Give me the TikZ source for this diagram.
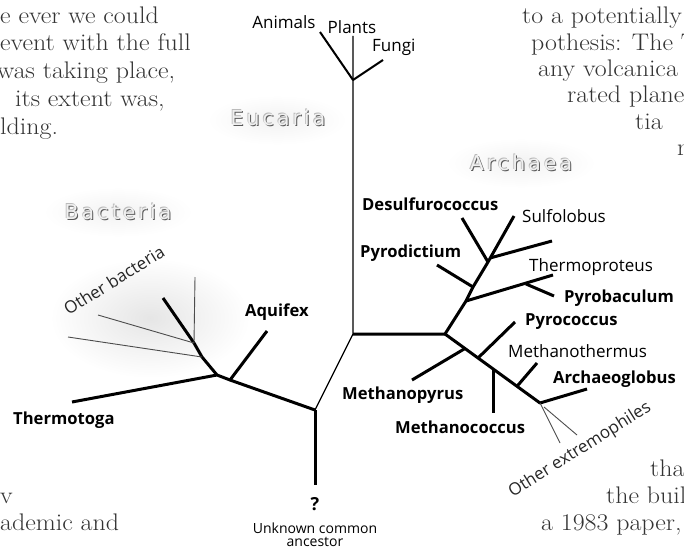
\documentclass[tikz,border=0pt]{standalone}
\usepackage{fontspec}
\newfontfamily\lab{Open Sans}
\newfontfamily\embf[LetterSpace=15]{DejaVu Sans}
\newfontfamily\bodyf[FakeStretch=1.08]{Latin Modern Roman}
\usetikzlibrary{shadings}
\begin{document}
\begin{tikzpicture}[x=1pt,y=-1pt,
  thickbr/.style={line width=3pt,line join=round},
  midbr/.style={line width=2pt,line join=round},
  thinbr/.style={line width=1.2pt},
  greybr/.style={line width=0.9pt,draw=black!70},
  lbl/.style={font=\lab\fontsize{17}{19}\selectfont,inner sep=0pt},
  blbl/.style={font=\lab\bfseries\fontsize{16.6}{19}\selectfont,inner sep=0pt},
  slbl/.style={font=\lab\fontsize{14}{15}\selectfont,inner sep=0pt},
  body/.style={font=\bodyf\fontsize{24}{27}\selectfont,text=black!80,anchor=base west,inner sep=0pt},
  emb/.style={font=\embf\fontsize{20.5}{22}\selectfont,text=gray!12,inner sep=0pt},
  embsh/.style={font=\embf\fontsize{20.5}{22}\selectfont,text=black!65,inner sep=0pt},
  embhi/.style={font=\embf\fontsize{20.5}{22}\selectfont,text=gray!55,inner sep=0pt},
  glow/.style={inner color=gray!20,outer color=white}
]
\useasboundingbox (0,0) rectangle (684,551);
% soft background glows
\shade[glow] (150,318) ellipse (100 and 60);
\shade[inner color=gray!10,outer color=white] (118,212) ellipse (75 and 25);
\shade[inner color=gray!10,outer color=white] (277,120) ellipse (70 and 25);
\shade[inner color=gray!10,outer color=white] (521,163) ellipse (75 and 25);

% body text fragments
\node[body] (t1) at (0,24) {e ever we could};
\node[body] (t2) at (0,51) {event with the full};
\node[body] (t3) at (-3,78) {was taking place,};
\node[body] (t4) at (15,106) {its extent was,};
\node[body] (t5) at (0,134) {lding.};
\node[body] (t6) at (522,24) {to a potentially};
\node[body] (t7) at (531,50) {pothesis: The T};
\node[body] (t8) at (538,76) {any volcanica};
\node[body] (t9) at (567,102) {rated plane};
\node[body] (t10) at (635,129) {tia};
\node[body] (t11) at (677,155) {r};
\node[body] (t12) at (0,503) {v};
\node[body] (t13) at (0,530) {ademic and};
\node[body] (t14) at (650,476) {tha};
\node[body] (t15) at (606,503) {the buil};
\node[body] (t16) at (541,530) {a 1983 paper,};

% domain labels (embossed)
\node[embsh] (bacs) at (119,213.2) {Bacteria};
\node[embhi] (bach) at (117.3,211.3) {Bacteria};
\node[emb] (bac) at (118,212) {Bacteria};
\node[embsh] (eucs) at (279,119.2) {Eucaria};
\node[embhi] (euch) at (277.3,117.3) {Eucaria};
\node[emb] (euc) at (278,118) {Eucaria};
\node[embsh] (arcs) at (522,164.2) {Archaea};
\node[embhi] (arch) at (520.3,162.3) {Archaea};
\node[emb] (arc) at (521,163) {Archaea};

% coordinates
\coordinate (R) at (315,410);
\coordinate (B) at (315,485);
\coordinate (EA) at (353,334);
\coordinate (EJ) at (353,80);
\coordinate (P) at (353,36);
\coordinate (A) at (320,32);
\coordinate (F) at (383,60);
% archaea
\coordinate (AJ) at (445,334);
\coordinate (U1) at (466,301);
\coordinate (U2) at (473,287);
\coordinate (U3) at (488,262);
\coordinate (U3b) at (490,258);
\coordinate (Pyd) at (437,265);
\coordinate (Des) at (462,218);
\coordinate (Sul) at (514,216);
\coordinate (Ub) at (552,241);
\coordinate (Tpr) at (553,275);
\coordinate (Tpj) at (526,284);
\coordinate (Pyb) at (554,296);
\coordinate (L) at (540,403);
\coordinate (Mpj) at (465,348.5);
\coordinate (Mp) at (412,380);
\coordinate (Pcj) at (478,358);
\coordinate (Pc) at (515,322);
\coordinate (Mcj) at (493,368.9);
\coordinate (Mc) at (493,413);
\coordinate (Mtj) at (517,386.3);
\coordinate (Mt) at (537,363);
\coordinate (Ag) at (587,389);
\coordinate (Ex1) at (560,443);
\coordinate (Ex2a) at (544,407);
\coordinate (Ex2) at (577,435);
% bacteria
\coordinate (AqJ) at (230,380);
\coordinate (Aq) at (267,331);
\coordinate (BJ) at (217,375);
\coordinate (Tm) at (72,402);
\coordinate (B1) at (202,357);
\coordinate (B2) at (194,343);
\coordinate (B3) at (163,298);
\coordinate (Ob1) at (68,337);
\coordinate (Ob2) at (98,315);
\coordinate (Ob3) at (195,277);

% tree
\draw[thickbr] (R) -- (B);
\draw[thinbr] (R) -- (EA) -- (P);
\draw[midbr] (A) -- (EJ) -- (F);
\draw[thickbr] (EA) -- (AJ) -- (U1) -- (U2) -- (U3) -- (Sul);
\draw[thickbr] (Des) -- (U3);
\draw[thickbr] (U3b) -- (Ub);
\draw[thickbr] (Pyd) -- (U2);
\draw[thickbr] (U1) -- (Tpr);
\draw[thickbr] (Tpj) -- (Pyb);
\draw[thickbr] (AJ) -- (L) -- (Ag);
\draw[thickbr] (Mpj) -- (Mp);
\draw[thickbr] (Pcj) -- (Pc);
\draw[thickbr] (Mcj) -- (Mc);
\draw[thickbr] (Mtj) -- (Mt);
\draw[greybr] (L) -- (Ex1);
\draw[greybr] (Ex2a) -- (Ex2);
\draw[thickbr] (R) -- (AqJ) -- (BJ) -- (Tm);
\draw[thickbr] (AqJ) -- (Aq);
\draw[thickbr] (BJ) -- (B1) -- (B2) -- (B3);
\draw[greybr] (B1) -- (Ob1);
\draw[greybr] (B2) -- (Ob2);
\draw[greybr] (B2) -- (Ob3);

% labels
\node[lbl] (lA) at (284,22) {Animals};
\node[lbl] (lP) at (352,27) {Plants};
\node[lbl,anchor=west] (lF) at (372,47) {Fungi};
\node[blbl,anchor=west] (lAq) at (245,312) {Aquifex};
\node[blbl,anchor=west] (lTm) at (13,420) {Thermotoga};
\node[lbl,rotate=32,text=black!85] (lOb) at (114,280) {Other bacteria};
\node[blbl,anchor=west] (lDes) at (362,204) {Desulfurococcus};
\node[lbl,anchor=west] (lSul) at (522,216) {Sulfolobus};
\node[blbl,anchor=west] (lPyd) at (360,253) {Pyrodictium};
\node[lbl,anchor=west] (lTpr) at (529,267) {Thermoproteus};
\node[blbl,anchor=west] (lPyb) at (564,298) {Pyrobaculum};
\node[blbl,anchor=west] (lPc) at (525,322) {Pyrococcus};
\node[lbl,anchor=west] (lMt) at (508,351) {Methanothermus};
\node[blbl,anchor=west] (lAg) at (553,379) {Archaeoglobus};
\node[blbl,anchor=west] (lMp) at (342,395) {Methanopyrus};
\node[blbl,anchor=west] (lMc) at (395,427) {Methanococcus};
\node[lbl,rotate=32,text=black!85] (lEx) at (580,450) {Other extremophiles};
\node[font=\lab\bfseries\fontsize{18}{20}\selectfont,inner sep=0pt] (q) at (315,504) {?};
\node[slbl,align=center] (unk) at (315,535) {Unknown common\\[-2pt]ancestor};
\end{tikzpicture}
\end{document}
